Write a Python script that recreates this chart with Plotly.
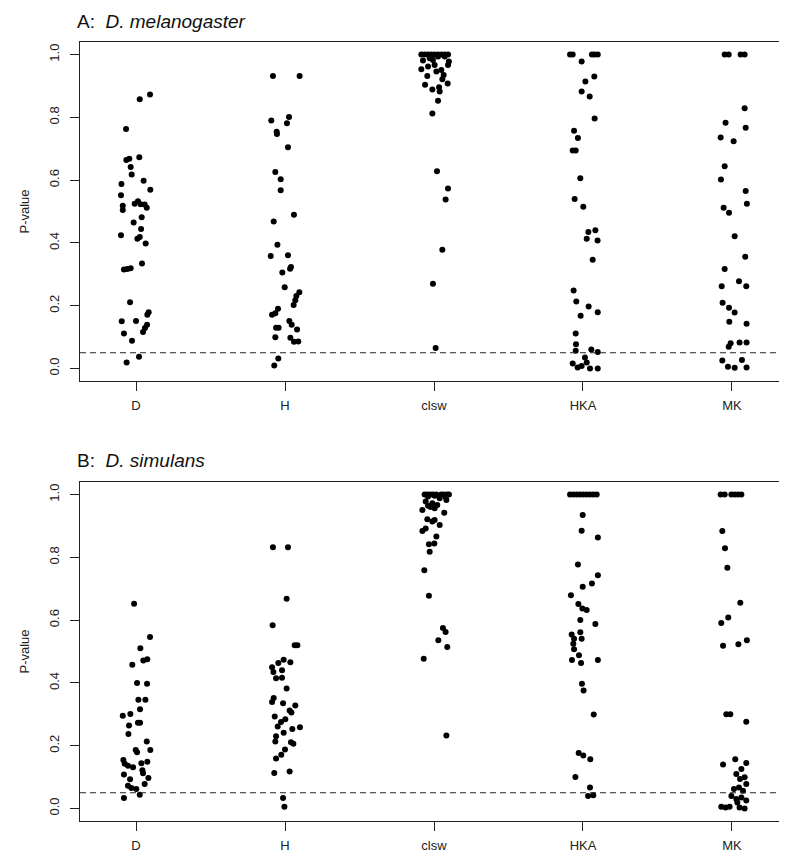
import plotly.graph_objects as go

categories = ["D", "H", "clsw", "HKA", "MK"]
y_ticks = [0.0, 0.2, 0.4, 0.6, 0.8, 1.0]
threshold = 0.05

# ---------- Panel A: D. melanogaster (P-values and horizontal jitter) ----------
mel_D = [0.858, 0.873, 0.763, 0.664, 0.668, 0.673, 0.642, 0.618, 0.588, 0.598, 0.552, 0.569,
         0.518, 0.505, 0.525, 0.533, 0.523, 0.522, 0.512, 0.465, 0.482, 0.444, 0.424, 0.413,
         0.419, 0.398, 0.315, 0.317, 0.319, 0.334, 0.211, 0.150, 0.151, 0.179, 0.171, 0.111,
         0.116, 0.129, 0.139, 0.088, 0.037, 0.019]
mel_D_jit = [0.025, 0.094, -0.067, -0.065, -0.045, 0.022, -0.036, -0.029, -0.098, 0.051, -0.101, 0.096,
             -0.089, -0.089, -0.009, 0.013, 0.031, 0.058, 0.072, -0.016, 0.038, 0.034, -0.101, 0.009,
             0.025, 0.065, -0.081, -0.058, -0.036, 0.040, -0.040, -0.096, 0.0, 0.085, 0.076, -0.081,
             0.047, 0.060, 0.074, -0.027, 0.020, -0.063]

mel_H = [0.932, 0.932, 0.790, 0.801, 0.781, 0.754, 0.747, 0.705, 0.626, 0.603, 0.568, 0.468,
         0.490, 0.394, 0.358, 0.361, 0.306, 0.318, 0.323, 0.259, 0.243, 0.231, 0.217, 0.202,
         0.171, 0.176, 0.190, 0.151, 0.139, 0.130, 0.130, 0.124, 0.099, 0.098, 0.085, 0.086,
         0.032, 0.009]
mel_H_jit = [-0.081, 0.098, -0.092, 0.027, 0.013, -0.056, -0.054, 0.020, -0.065, -0.029, -0.029, -0.076,
             0.060, -0.051, -0.096, 0.020, -0.018, 0.034, 0.040, -0.002, 0.096, 0.076, 0.069, 0.058,
             -0.087, -0.065, -0.047, 0.029, 0.045, -0.043, -0.060, 0.081, -0.065, 0.036, 0.060, 0.089,
             -0.045, -0.072]

mel_clsw = [1.0, 1.0, 1.0, 1.0, 1.0, 1.0, 1.0, 1.0, 1.0,
            0.981, 0.988, 0.983, 0.994, 0.994, 0.978, 0.953, 0.962, 0.967, 0.951, 0.967,
            0.932, 0.946, 0.935, 0.921, 0.904, 0.889, 0.896, 0.882, 0.908, 0.853, 0.812,
            0.628, 0.573, 0.538, 0.378, 0.270, 0.065]
mel_clsw_jit = [-0.085, -0.063, -0.040, -0.018, 0.004, 0.027, 0.049, 0.072, 0.094,
                -0.074, -0.029, -0.007, 0.027, 0.072, 0.100, -0.085, -0.040, 0.004, 0.049, 0.094,
                -0.045, 0.016, 0.065, 0.056, -0.060, -0.011, 0.034, 0.038, 0.092, 0.027, -0.011,
                0.020, 0.094, 0.078, 0.056, -0.007, 0.011]

mel_HKA = [1.0, 1.0, 1.0, 1.0, 1.0, 0.978, 0.930, 0.914, 0.882, 0.866, 0.796, 0.757, 0.734,
           0.694, 0.694, 0.606, 0.540, 0.515, 0.435, 0.440, 0.413, 0.408, 0.346, 0.248,
           0.213, 0.197, 0.168, 0.179, 0.111, 0.077, 0.056, 0.060, 0.052, 0.016, 0.003,
           0.008, 0.035, 0.019, 0.0, 0.0]
mel_HKA_jit = [-0.087, -0.069, 0.060, 0.078, 0.099, -0.009, 0.076, 0.016, -0.009, 0.045, 0.078, -0.060, -0.034,
               -0.069, -0.049, -0.018, -0.056, 0.002, 0.036, 0.083, 0.025, 0.098, 0.065, -0.063,
               -0.045, 0.038, -0.016, 0.099, -0.049, -0.047, -0.049, 0.056, 0.099, -0.069, -0.036,
               -0.009, 0.013, 0.025, 0.047, 0.099]

mel_MK = [1.0, 1.0, 1.0, 1.0, 0.829, 0.783, 0.767, 0.736, 0.724, 0.644, 0.602, 0.565, 0.525,
          0.512, 0.496, 0.421, 0.356, 0.317, 0.262, 0.278, 0.262, 0.209, 0.193, 0.178, 0.149,
          0.142, 0.083, 0.080, 0.069, 0.083, 0.025, 0.005, 0.002, 0.027, 0.003]
mel_MK_jit = [-0.049, -0.022, 0.058, 0.085, 0.085, -0.043, 0.092, -0.076, 0.011, -0.049, -0.074, 0.092, 0.100,
              -0.056, -0.020, 0.018, 0.089, -0.049, -0.069, 0.047, 0.096, -0.063, -0.020, 0.018, -0.018,
              0.098, 0.051, -0.009, -0.022, 0.098, -0.065, -0.027, 0.018, 0.067, 0.098]

# ---------- Panel B: D. simulans ----------
sim_D = [0.652, 0.546, 0.510, 0.458, 0.471, 0.475, 0.400, 0.397, 0.346, 0.346, 0.295, 0.301,
         0.316, 0.264, 0.273, 0.273, 0.237, 0.213, 0.186, 0.179, 0.186, 0.154, 0.142, 0.136,
         0.131, 0.144, 0.149, 0.122, 0.112, 0.108, 0.093, 0.078, 0.097, 0.072, 0.065, 0.062,
         0.044, 0.033]
sim_D_jit = [-0.013, 0.094, 0.029, -0.025, 0.049, 0.076, 0.007, 0.074, 0.016, 0.063, -0.089, -0.038,
             0.027, -0.047, 0.013, 0.027, -0.051, 0.072, -0.002, 0.007, 0.096, -0.085, -0.076, -0.054,
             -0.020, 0.036, 0.076, 0.043, 0.047, -0.081, -0.040, 0.058, 0.083, -0.054, -0.031, 0.002,
             0.025, -0.081]

sim_H = [0.832, 0.832, 0.668, 0.584, 0.520, 0.520, 0.474, 0.466, 0.463, 0.450, 0.435, 0.440,
         0.415, 0.416, 0.382, 0.352, 0.339, 0.335, 0.328, 0.312, 0.306, 0.293, 0.275, 0.284,
         0.261, 0.241, 0.253, 0.259, 0.230, 0.213, 0.211, 0.206, 0.188, 0.171, 0.159, 0.113,
         0.118, 0.033, 0.005]
sim_H_jit = [-0.081, 0.020, 0.011, -0.083, 0.065, 0.083, -0.009, 0.036, -0.045, -0.087, -0.078, -0.020,
             -0.060, -0.020, 0.011, -0.076, -0.087, -0.013, 0.069, 0.031, 0.043, -0.069, -0.027, 0.002,
             -0.049, -0.009, 0.049, 0.100, -0.060, -0.065, 0.040, 0.056, 0.0, -0.025, -0.060, -0.072,
             0.031, -0.013, -0.004]

sim_clsw = [1.0, 1.0, 1.0, 1.0, 1.0, 1.0, 1.0, 1.0, 1.0,
            0.994, 0.996, 0.992, 0.988, 0.978, 0.972, 0.983, 0.967, 0.960, 0.951, 0.956, 0.964,
            0.942, 0.921, 0.914, 0.919, 0.903, 0.892, 0.884, 0.866, 0.844, 0.842, 0.818,
            0.759, 0.678, 0.575, 0.562, 0.536, 0.514, 0.477, 0.232]
sim_clsw_jit = [-0.063, -0.045, -0.027, -0.007, 0.016, 0.049, 0.067, 0.087, 0.100,
                -0.040, 0.004, 0.078, 0.038, -0.056, -0.011, 0.083, 0.022, -0.022, -0.078, 0.004, -0.040,
                0.069, -0.045, -0.011, 0.004, 0.038, -0.056, -0.078, 0.016, 0.002, -0.034, -0.029,
                -0.065, -0.034, 0.060, 0.078, 0.029, 0.089, -0.069, 0.083]

sim_HKA = [1.0, 1.0, 1.0, 1.0, 1.0, 1.0, 1.0, 1.0, 1.0,
           0.935, 0.885, 0.863, 0.777, 0.743, 0.717, 0.706, 0.679, 0.651, 0.637, 0.632,
           0.600, 0.588, 0.554, 0.541, 0.561, 0.541, 0.525, 0.507, 0.488, 0.473, 0.463, 0.473,
           0.397, 0.376, 0.299, 0.177, 0.169, 0.157, 0.100, 0.067, 0.040, 0.042]
sim_HKA_jit = [-0.087, -0.065, -0.043, -0.020, 0.002, 0.025, 0.047, 0.069, 0.092,
               -0.002, -0.009, 0.100, -0.034, 0.100, 0.060, -0.002, -0.081, -0.031, -0.004, 0.025,
               -0.018, 0.083, -0.076, -0.060, -0.018, -0.009, -0.065, -0.060, -0.027, -0.074, -0.013, 0.100,
               -0.007, 0.004, 0.072, -0.029, 0.002, 0.049, -0.051, 0.047, 0.034, 0.069]

sim_MK = [1.0, 1.0, 1.0, 1.0, 1.0, 1.0, 0.884, 0.829, 0.767, 0.655, 0.608, 0.591, 0.518,
          0.523, 0.536, 0.300, 0.300, 0.276, 0.140, 0.157, 0.145, 0.126, 0.110, 0.099, 0.094,
          0.062, 0.067, 0.056, 0.078, 0.040, 0.030, 0.035, 0.025, 0.005, 0.003, 0.005, 0.019,
          0.003, 0.0]
sim_MK_jit = [-0.076, -0.049, -0.004, 0.018, 0.040, 0.063, -0.065, -0.047, -0.031, 0.056, -0.025, -0.072, -0.060,
              0.043, 0.100, -0.038, -0.011, 0.096, -0.060, 0.022, 0.096, 0.063, 0.029, 0.085, 0.054,
              0.013, 0.047, 0.074, 0.096, -0.004, 0.029, 0.063, 0.096, -0.072, -0.043, -0.016, 0.036,
              0.051, 0.085]

mel_values = [mel_D, mel_H, mel_clsw, mel_HKA, mel_MK]
mel_jitter = [mel_D_jit, mel_H_jit, mel_clsw_jit, mel_HKA_jit, mel_MK_jit]
sim_values = [sim_D, sim_H, sim_clsw, sim_HKA, sim_MK]
sim_jitter = [sim_D_jit, sim_H_jit, sim_clsw_jit, sim_HKA_jit, sim_MK_jit]

W, H = 787, 853
FONT = "Liberation Sans, Arial, Helvetica, sans-serif"

fig = go.Figure()

for values, jitter, xa, ya in [(mel_values, mel_jitter, "x", "y"), (sim_values, sim_jitter, "x2", "y2")]:
    for i, (vals, jit) in enumerate(zip(values, jitter)):
        xs = [i + 1 + j for j in jit]
        fig.add_trace(go.Scatter(
            x=xs, y=vals, mode="markers", xaxis=xa, yaxis=ya,
            marker=dict(color="black", size=6, line=dict(width=0)),
            showlegend=False, hoverinfo="skip"))

# geometry (pixels)
left, right = 72, 780
A_top, A_bot = 34, 373
B_top, B_bot = 474, 813

def xd():
    return [left / W, right / W]

def yd(top, bot):
    return [1 - bot / H, 1 - top / H]

axis_common = dict(showgrid=False, zeroline=False, showline=True, linecolor="#222", linewidth=1,
                   mirror=True, ticks="outside", ticklen=9, tickcolor="#222", tickwidth=1,
                   tickfont=dict(family=FONT, size=13, color="#222"))

xrange = [0.624, 5.376]
yrange = [-0.04, 1.04]

fig.update_layout(
    width=W, height=H, margin=dict(l=0, r=0, t=0, b=0),
    plot_bgcolor="white", paper_bgcolor="white",
    xaxis=dict(domain=xd(), anchor="y", range=xrange, tickvals=[1, 2, 3, 4, 5], ticktext=categories,
               ticklabelstandoff=3, **axis_common),
    yaxis=dict(domain=yd(A_top, A_bot), anchor="x", range=yrange, tickvals=y_ticks, tickformat=".1f",
               tickangle=-90, ticklabelstandoff=6, **axis_common),
    xaxis2=dict(domain=xd(), anchor="y2", range=xrange, tickvals=[1, 2, 3, 4, 5], ticktext=categories,
                ticklabelstandoff=3, **axis_common),
    yaxis2=dict(domain=yd(B_top, B_bot), anchor="x2", range=yrange, tickvals=y_ticks, tickformat=".1f",
                tickangle=-90, ticklabelstandoff=6, **axis_common),
)

for xr, yr in [("x", "y"), ("x2", "y2")]:
    fig.add_shape(type="line", xref=xr + " domain", yref=yr, x0=0, x1=1, y0=threshold, y1=threshold,
                  line=dict(color="#222", width=1, dash="6px,4px"))

# titles
fig.add_annotation(text="A:  <i>D. melanogaster</i>", xref="paper", yref="paper",
                   x=67 / W, y=1 - 13 / H, xanchor="left", yanchor="middle", showarrow=False,
                   font=dict(family=FONT, size=19, color="#111"))
fig.add_annotation(text="B:  <i>D. simulans</i>", xref="paper", yref="paper",
                   x=67 / W, y=1 - 452 / H, xanchor="left", yanchor="middle", showarrow=False,
                   font=dict(family=FONT, size=19, color="#111"))

# y-axis titles
for top, bot in [(A_top, A_bot), (B_top, B_bot)]:
    fig.add_annotation(text="P-value", xref="paper", yref="paper", x=16 / W, y=1 - (top + bot) / 2 / H,
                       xanchor="center", yanchor="middle", textangle=-90, showarrow=False,
                       font=dict(family=FONT, size=13, color="#222"))

fig.write_html("out.html")
